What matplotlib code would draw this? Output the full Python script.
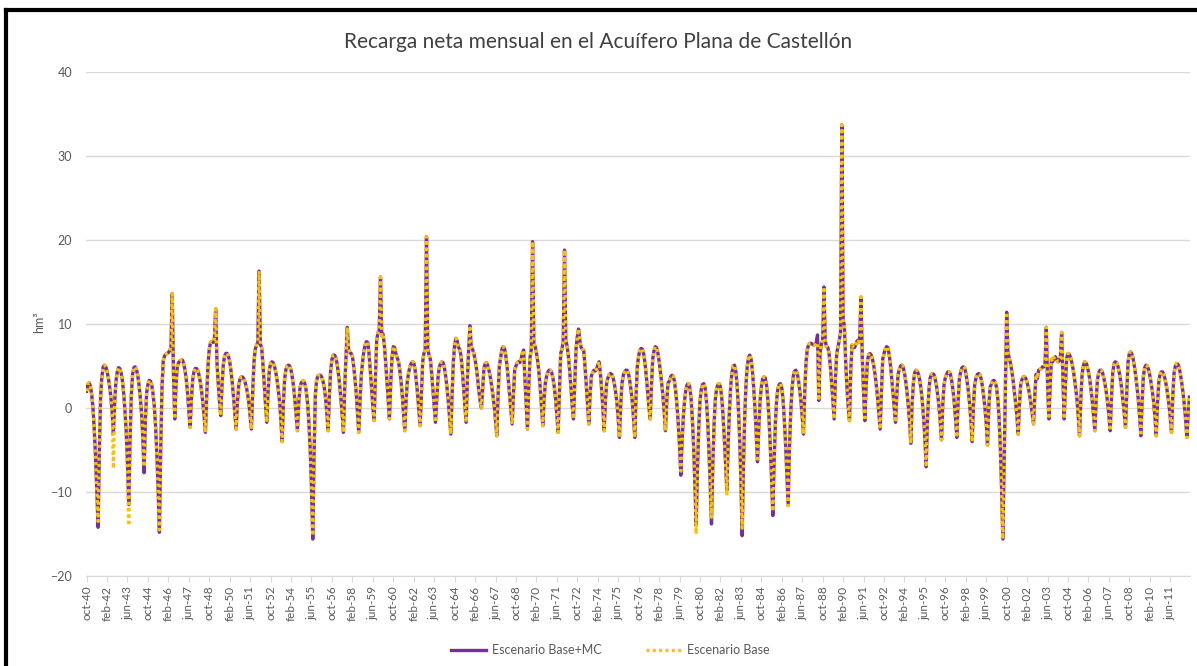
import numpy as np
import matplotlib.pyplot as plt
from matplotlib.lines import Line2D

plt.rcParams['font.family'] = ['Lato', 'DejaVu Sans']

# Recarga neta mensual (hm3), Escenario Base+MC, un año hidrológico por fila (oct ... sep)
recarga_mc = [
    [2.0, 2.8, 3.0, 2.6, 1.6, 0.0, -2.5, -5.8, -9.8, -14.2, -5.0, 1.5],   # 1940-41
    [3.8, 4.9, 5.1, 4.9, 4.4, 3.6, 2.6, 1.3, -0.5, -3.0, 0.8, 3.2],       # 1941-42
    [4.3, 4.8, 4.7, 4.2, 3.3, 1.8, -0.2, -2.8, -6.5, -11.5, -4.0, 1.5],   # 1942-43
    [4.0, 4.8, 4.9, 4.6, 3.9, 2.8, 1.3, -0.6, -3.5, -7.7, -1.5, 1.8],     # 1943-44
    [2.8, 3.3, 3.2, 2.7, 1.7, 0.2, -2.2, -5.5, -9.8, -14.8, -5.0, 2.5],   # 1944-45
    [5.6, 6.2, 6.4, 6.5, 6.6, 6.8, 7.2, 13.6, 4.0, -1.3, 2.8, 4.9],       # 1945-46
    [5.4, 5.6, 5.7, 5.7, 5.3, 4.5, 3.4, 1.8, -0.2, -2.3, 1.0, 3.3],       # 1946-47
    [4.3, 4.7, 4.7, 4.5, 3.9, 3.1, 2.0, 0.6, -1.0, -2.9, 1.5, 5.0],       # 1947-48
    [7.0, 7.8, 7.9, 7.8, 8.2, 11.8, 5.5, 3.0, 0.8, -0.9, 2.8, 5.2],       # 1948-49
    [6.2, 6.5, 6.5, 6.2, 5.5, 4.4, 3.0, 1.3, -0.6, -2.5, 0.5, 2.6],       # 1949-50
    [3.4, 3.7, 3.7, 3.5, 3.1, 2.5, 1.7, 0.6, -0.9, -2.5, 2.0, 5.5],       # 1950-51
    [7.0, 7.5, 7.8, 16.3, 7.6, 7.2, 5.2, 2.8, 0.5, -1.7, 1.8, 4.5],       # 1951-52
    [5.3, 5.5, 5.4, 5.0, 4.3, 3.4, 2.2, 0.8, -1.3, -4.0, 0.5, 3.5],       # 1952-53
    [4.6, 5.0, 5.1, 5.0, 4.5, 3.6, 2.5, 1.0, -0.8, -2.7, 0.6, 2.4],       # 1953-54
    [3.0, 3.2, 3.2, 2.8, 1.9, 0.5, -1.8, -5.0, -9.5, -15.6, -5.5, 1.5],   # 1954-55
    [3.3, 3.8, 3.9, 3.9, 3.7, 3.2, 2.4, 1.2, -0.6, -2.7, 1.5, 4.5],       # 1955-56
    [5.8, 6.3, 6.3, 6.0, 5.3, 4.2, 2.8, 1.1, -0.8, -2.9, 2.5, 6.0],       # 1956-57
    [9.6, 7.0, 6.6, 6.5, 6.2, 5.0, 3.5, 1.8, -0.5, -2.9, 1.0, 4.0],       # 1957-58
    [5.5, 6.8, 7.5, 7.9, 7.8, 6.5, 4.5, 2.3, 0.2, -1.5, 3.5, 8.0],        # 1958-59
    [9.0, 9.2, 15.6, 8.6, 8.8, 7.5, 5.5, 3.3, 1.0, -1.3, 3.0, 6.0],       # 1959-60
    [7.3, 7.2, 6.5, 6.0, 5.6, 4.6, 3.3, 1.6, -0.5, -2.7, 0.8, 3.2],       # 1960-61
    [4.2, 4.9, 5.3, 5.5, 5.4, 4.6, 3.3, 1.7, -0.2, -2.1, 1.5, 5.5],       # 1961-62
    [6.5, 7.0, 20.4, 7.0, 6.3, 5.8, 4.2, 2.2, 0.2, -1.7, 1.0, 3.6],       # 1962-63
    [4.8, 5.3, 5.5, 5.4, 4.8, 3.8, 2.5, 0.9, -1.0, -3.1, 1.5, 5.5],       # 1963-64
    [7.5, 8.3, 8.0, 7.2, 7.0, 6.2, 4.5, 2.5, 0.3, -1.7, 3.5, 7.0],        # 1964-65
    [9.8, 7.3, 7.0, 6.5, 5.8, 4.8, 3.5, 2.0, 0.8, 0.0, 2.5, 4.8],         # 1965-66
    [5.3, 5.4, 5.0, 4.4, 3.6, 2.6, 1.5, 0.2, -1.4, -3.3, 1.5, 5.0],       # 1966-67
    [6.0, 7.0, 7.3, 7.1, 6.3, 5.0, 3.4, 1.6, -0.2, -1.9, 1.5, 4.5],       # 1967-68
    [5.0, 5.4, 5.5, 5.4, 5.8, 6.5, 6.9, 3.5, 0.5, -2.5, 2.5, 6.0],        # 1968-69
    [7.0, 19.8, 7.7, 7.3, 6.6, 5.6, 4.2, 2.4, 0.2, -2.1, 1.0, 3.0],       # 1969-70
    [3.8, 4.3, 4.5, 4.5, 4.2, 3.5, 2.5, 1.1, -0.8, -2.9, 2.0, 6.5],       # 1970-71
    [7.0, 8.0, 18.8, 8.1, 7.4, 6.2, 4.5, 2.5, 0.3, -1.3, 3.0, 7.0],       # 1971-72
    [8.5, 9.4, 8.0, 7.2, 7.0, 6.9, 5.0, 2.8, 0.4, -1.9, 1.5, 3.8],        # 1972-73
    [4.2, 4.5, 4.4, 4.6, 5.1, 5.5, 4.3, 2.3, 0.0, -2.7, 0.8, 3.0],        # 1973-74
    [3.6, 4.0, 4.1, 4.0, 3.6, 2.9, 1.9, 0.6, -1.2, -3.5, 0.5, 3.0],       # 1974-75
    [3.9, 4.3, 4.5, 4.5, 4.1, 3.3, 2.2, 0.8, -1.2, -3.5, 1.5, 5.0],       # 1975-76
    [6.2, 6.9, 7.1, 7.0, 6.4, 5.3, 3.8, 2.0, 0.2, -1.3, 2.5, 5.8],        # 1976-77
    [6.8, 7.3, 7.2, 6.6, 5.6, 4.4, 3.0, 1.4, -0.5, -2.7, 0.8, 3.0],       # 1977-78
    [3.2, 3.7, 3.9, 3.8, 3.2, 2.0, 0.3, -1.8, -4.5, -8.0, -4.0, -1.0],    # 1978-79
    [1.0, 2.2, 2.8, 2.9, 2.5, 1.2, -1.2, -4.5, -9.0, -14.0, -7.5, -2.5],  # 1979-80
    [0.8, 2.2, 2.8, 2.9, 2.4, 1.0, -1.5, -5.0, -9.0, -13.8, -7.0, -2.0],  # 1980-81
    [1.0, 2.3, 2.8, 2.9, 2.5, 1.3, -0.8, -3.5, -6.5, -9.8, -4.5, -0.5],   # 1981-82
    [2.5, 4.2, 5.0, 5.1, 4.4, 2.8, 0.2, -3.5, -8.5, -15.2, -7.0, -1.0],   # 1982-83
    [2.8, 5.0, 6.0, 6.3, 5.8, 4.5, 2.5, 0.0, -3.0, -6.4, -2.5, 0.8],      # 1983-84
    [2.5, 3.4, 3.7, 3.6, 2.8, 1.2, -1.2, -4.5, -8.3, -12.8, -6.5, -1.8],  # 1984-85
    [1.0, 2.3, 2.8, 2.9, 2.4, 1.0, -1.4, -4.3, -7.8, -11.6, -5.0, -0.5],  # 1985-86
    [2.2, 3.8, 4.4, 4.5, 4.2, 3.4, 2.2, 0.8, -1.0, -3.1, 2.0, 5.5],       # 1986-87
    [7.0, 7.5, 7.7, 7.7, 7.6, 7.5, 7.6, 7.8, 8.7, 0.9, 6.5, 7.6],         # 1987-88
    [8.0, 14.4, 8.0, 7.3, 7.2, 6.5, 5.0, 3.0, 0.8, -1.3, 3.5, 6.5],       # 1988-89
    [7.3, 8.0, 9.0, 33.7, 10.5, 9.8, 5.5, 2.5, 0.2, -1.5, 4.5, 7.5],      # 1989-90
    [7.3, 7.2, 7.6, 8.0, 7.8, 8.5, 13.2, 6.0, 2.0, -1.5, 2.5, 5.5],       # 1990-91
    [6.4, 6.5, 6.3, 5.8, 5.0, 4.0, 2.7, 1.2, -0.6, -2.5, 2.0, 5.8],       # 1991-92
    [6.5, 7.0, 7.3, 7.2, 6.4, 5.2, 3.6, 1.8, -0.1, -1.7, 1.5, 4.0],       # 1992-93
    [4.6, 5.0, 5.1, 4.9, 4.2, 3.2, 1.9, 0.3, -1.6, -4.2, 0.5, 3.0],       # 1993-94
    [4.2, 4.5, 4.4, 4.0, 3.3, 2.2, 0.8, -1.2, -3.6, -7.0, -1.5, 1.8],     # 1994-95
    [3.5, 4.0, 4.1, 4.0, 3.5, 2.7, 1.6, 0.2, -1.6, -3.8, 0.5, 2.8],       # 1995-96
    [3.6, 4.0, 4.3, 4.3, 4.0, 3.2, 2.1, 0.6, -1.3, -3.5, 0.8, 3.5],       # 1996-97
    [4.3, 4.8, 4.9, 4.8, 4.2, 3.2, 2.0, 0.5, -1.5, -4.0, 0.3, 2.8],       # 1997-98
    [3.6, 4.0, 4.1, 4.0, 3.5, 2.6, 1.4, 0.0, -1.8, -4.4, 0.0, 2.5],       # 1998-99
    [2.8, 3.2, 3.3, 3.1, 2.5, 1.2, -1.0, -4.5, -9.5, -15.6, -6.5, 2.5],   # 1999-00
    [11.4, 6.5, 6.0, 5.3, 4.4, 3.3, 2.0, 0.6, -1.0, -3.1, 0.5, 2.8],      # 2000-01
    [3.4, 3.7, 3.7, 3.5, 3.0, 2.4, 1.5, 0.5, -0.7, -1.9, 1.5, 4.0],       # 2001-02
    [3.5, 4.5, 4.6, 4.7, 4.9, 4.9, 5.2, 9.6, 3.0, -1.3, 2.5, 5.8],        # 2002-03
    [5.5, 6.0, 6.1, 5.8, 5.5, 5.6, 6.0, 9.0, 3.5, -1.3, 2.8, 6.0],        # 2003-04
    [6.5, 6.4, 6.0, 5.4, 4.6, 3.6, 2.4, 1.0, -0.9, -3.3, 1.0, 4.0],       # 2004-05
    [5.0, 5.5, 5.4, 5.0, 4.3, 3.4, 2.2, 0.8, -0.9, -2.7, 0.8, 3.3],       # 2005-06
    [4.2, 4.5, 4.5, 4.2, 3.6, 2.8, 1.8, 0.6, -0.9, -2.7, 1.2, 4.2],       # 2006-07
    [5.3, 5.5, 5.4, 5.0, 4.3, 3.4, 2.3, 0.9, -0.6, -2.3, 2.0, 5.5],       # 2007-08
    [6.5, 6.7, 6.4, 5.8, 4.9, 3.8, 2.5, 1.0, -0.9, -3.3, 0.8, 3.8],       # 2008-09
    [4.8, 5.1, 5.0, 4.6, 3.9, 3.0, 2.0, 0.7, -1.0, -3.3, 0.5, 3.0],       # 2009-10
    [4.0, 4.3, 4.3, 4.0, 3.4, 2.6, 1.6, 0.4, -1.1, -2.9, 1.5, 4.2],       # 2010-11
    [5.0, 5.3, 5.2, 4.8, 4.0, 3.0, 1.8, 0.4, -1.3, -3.5, -0.8, 1.3],      # 2011-12
]

# Escenario Base: igual que Base+MC salvo en estos meses (año, mes)
base_distinto = {
    (1941, 7): -13.5,
    (1942, 7): -7.2,
    (1943, 6): -7.5,
    (1943, 7): -14.0,
    (1944, 7): -7.0,
    (1945, 7): -14.5,
    (1955, 7): -15.2,
    (1979, 7): -7.5,
    (1980, 7): -15.0,
    (1981, 7): -13.0,
    (1982, 7): -10.4,
    (1983, 7): -14.3,
    (1985, 7): -12.3,
    (1988, 6): 7.6,
}

etiquetas = ['oct-40', 'feb-42', 'jun-43', 'oct-44', 'feb-46', 'jun-47', 'oct-48', 'feb-50',
             'jun-51', 'oct-52', 'feb-54', 'jun-55', 'oct-56', 'feb-58', 'jun-59', 'oct-60',
             'feb-62', 'jun-63', 'oct-64', 'feb-66', 'jun-67', 'oct-68', 'feb-70', 'jun-71',
             'oct-72', 'feb-74', 'jun-75', 'oct-76', 'feb-78', 'jun-79', 'oct-80', 'feb-82',
             'jun-83', 'oct-84', 'feb-86', 'jun-87', 'oct-88', 'feb-90', 'jun-91', 'oct-92',
             'feb-94', 'jun-95', 'oct-96', 'feb-98', 'jun-99', 'oct-00', 'feb-02', 'jun-03',
             'oct-04', 'feb-06', 'jun-07', 'oct-08', 'feb-10', 'jun-11']

mc = np.array(recarga_mc).ravel()
base = mc.copy()
for (anyo, mes), v in base_distinto.items():
    base[(anyo - 1940) * 12 + mes - 10] = v
x = np.arange(len(mc))

fig = plt.figure(figsize=(11.97, 6.66), dpi=100)
ax = fig.add_axes([0.0718, 0.1351, 0.9224, 0.7568])

ax.plot(x, mc, color='#7030A0', lw=2.4, solid_joinstyle='round', label='Escenario Base+MC', zorder=3)
ax.plot(x, base, color='#FFC000', lw=2.4, ls=(0, (0.9, 1.0)), dash_capstyle='butt',
        label='Escenario Base', zorder=4)

ax.set_xlim(-0.5, len(mc) - 0.5)
ax.set_ylim(-20, 40)
ax.set_yticks(np.arange(-20, 41, 10))
ax.grid(axis='y', color='#D9D9D9', lw=1)
ax.set_axisbelow(True)
for s in ['top', 'right', 'left']:
    ax.spines[s].set_visible(False)
ax.spines['bottom'].set_color('#D9D9D9')

ax.set_xticks(np.arange(0, len(mc), 16))
ax.set_xticklabels(etiquetas, rotation=90, fontsize=8.5, color='#595959')
ax.tick_params(axis='x', length=4, color='#D9D9D9', pad=3)
ax.tick_params(axis='y', length=0, pad=10, labelsize=9, labelcolor='#595959')

ax.set_ylabel('hm³', fontsize=9, color='#595959')
ax.yaxis.set_label_coords(-0.037, 0.504)

fig.text(0.5, 0.937, 'Recarga neta mensual en el Acuífero Plana de Castellón',
         ha='center', va='center', fontsize=15, color='#404040')

fig.legend(loc='center', bbox_to_anchor=(0.51, 0.024), ncol=2, frameon=False,
           fontsize=9, handlelength=2.8, handletextpad=0.5, columnspacing=3.5,
           labelcolor='#595959')

# marco negro del gráfico
fig.add_artist(Line2D([0.0054, 1.0], [0.9857, 0.9857], transform=fig.transFigure, color='black', lw=3))
fig.add_artist(Line2D([0.0054, 0.0054], [0.0, 0.9857], transform=fig.transFigure, color='black', lw=3))

fig.savefig('out.png', dpi=100)
